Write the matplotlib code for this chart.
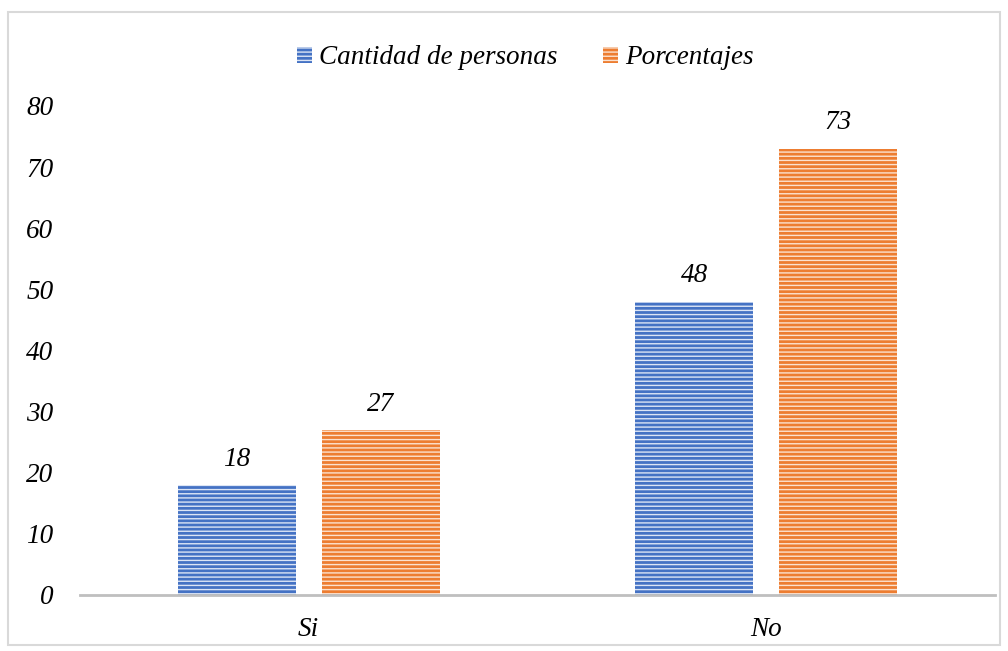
import matplotlib
matplotlib.use("Agg")
import matplotlib.pyplot as plt
import numpy as np
from matplotlib.patches import Rectangle

categories = ["Si", "No"]
cantidad = [18, 48]
porcentajes = [27, 73]
series_labels = ["Cantidad de personas", "Porcentajes"]

BLUE = "#4472C4"
ORANGE = "#ED7D31"

plt.rcParams["font.family"] = ["Liberation Serif", "DejaVu Serif"]
plt.rcParams["font.style"] = "italic"
plt.rcParams["hatch.linewidth"] = 1.0

fig = plt.figure(figsize=(10.08, 6.51), dpi=100)
ax = fig.add_axes([80 / 1008, 1 - 595 / 651, 915 / 1008, (595 - 106) / 651])

x = np.arange(len(categories))
w = 0.258
off = 0.157
b1 = ax.bar(x - off, cantidad, w, color=BLUE, edgecolor="#DCE5F5", hatch="----",
            linewidth=0, label=series_labels[0])
b2 = ax.bar(x + off, porcentajes, w, color=ORANGE, edgecolor="#FBE2D0", hatch="----",
            linewidth=0, label=series_labels[1])

for bars in (b1, b2):
    for b in bars:
        ax.text(b.get_x() + b.get_width() / 2, b.get_height() + 2.2, f"{b.get_height():.0f}",
                ha="center", va="bottom", fontsize=19.5, style="italic")

ax.set_xlim(-0.5, 1.5)
ax.set_ylim(0, 80)
ax.set_yticks(range(0, 81, 10))
ax.set_xticks(x)
ax.set_xticklabels(categories)
ax.tick_params(axis="both", length=0, labelsize=19.5)
ax.tick_params(axis="y", pad=19)
ax.tick_params(axis="x", pad=16)
for s in ["top", "right", "left"]:
    ax.spines[s].set_visible(False)
ax.spines["bottom"].set_color("#BFBFBF")
ax.spines["bottom"].set_linewidth(2)

ax.legend(loc="upper center", bbox_to_anchor=(0.5 - 12 / 915, 1 + 85 / 489), ncol=2,
          frameon=False, fontsize=19.5, handlelength=0.55, handleheight=0.55,
          handletextpad=0.25, columnspacing=1.7)

fig.patches.append(Rectangle((8 / 1008, 6 / 651), 992 / 1008, 633 / 651,
                             transform=fig.transFigure, fill=False,
                             edgecolor="#D9D9D9", linewidth=1.5))

fig.savefig("out.png", dpi=100, facecolor="white")
